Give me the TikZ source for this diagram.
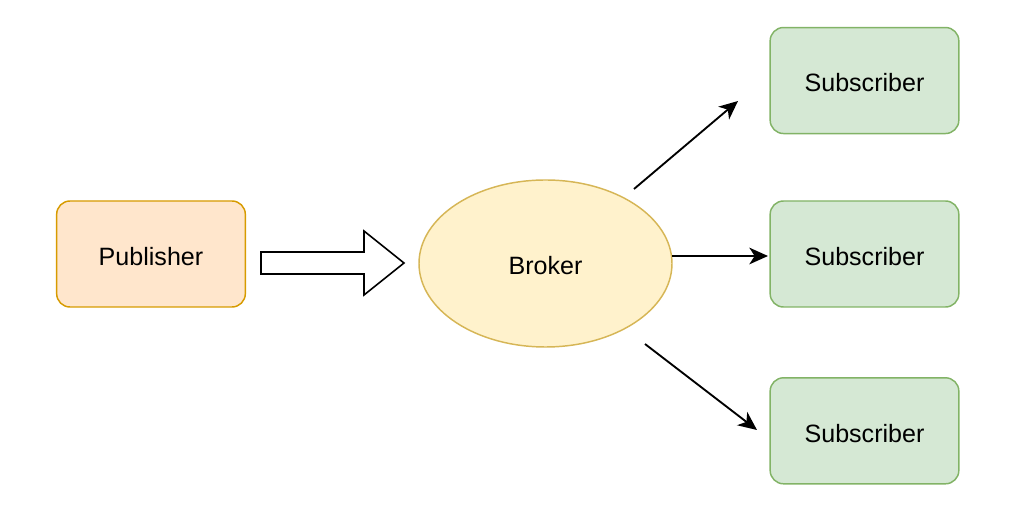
\documentclass[tikz,border=0pt]{standalone}
\usepackage{fontspec}
\setmainfont{Liberation Sans}
\usetikzlibrary{positioning, shapes.geometric, arrows.meta}
\definecolor{pubFill}{HTML}{FFE6CC}
\definecolor{pubLine}{HTML}{D79B00}
\definecolor{brokerFill}{HTML}{FFF2CC}
\definecolor{brokerLine}{HTML}{D6B656}
\definecolor{subFill}{HTML}{D5E8D4}
\definecolor{subLine}{HTML}{82B366}
\def\boxW{141.5pt}
\def\boxH{79.5pt}
\def\upperGap{49.5pt}
\def\lowerGap{52pt}
\newcommand{\PubSubStyles}{
  \tikzset{
    basebox/.style={
      rectangle,
      rounded corners=10pt,
      line width=1.1pt,
      minimum width=\boxW,
      minimum height=\boxH,
      text height=17pt,
      text depth=0pt,
      align=center
    },
    pubbox/.style={basebox, draw=pubLine, fill=pubFill},
    subbox/.style={basebox, draw=subLine, fill=subFill},
    brokerell/.style={ellipse, draw=brokerLine, fill=brokerFill, line width=1.1pt,
      minimum width=189.75pt, minimum height=125.25pt, inner sep=0pt,
      text height=16pt, text depth=0pt},
    pusharrow/.style={draw=black, fill=white, line width=1.2pt, line join=miter},
    fanout/.style={->, line width=1.4pt}
  }
}
\begin{document}
\begin{tikzpicture}[
  x=0.75pt, y=-0.75pt,
  >={Stealth[length=14pt, width=12.5pt, inset=4pt]},
  font=\fontsize{18.8}{22}\selectfont
]
  \PubSubStyles
  \useasboundingbox (0,0) rectangle (1029,523);

  \node[pubbox] (pub) at (151,254) {Publisher};
  \node[brokerell] (broker) at (545.5,263.5) {Broker};
  \node[subbox] (sub2) at (864.5,254) {Subscriber};
  \node[subbox, above=\upperGap of sub2] (sub1) {Subscriber};
  \node[subbox, below=\lowerGap of sub2] (sub3) {Subscriber};

  % hollow arrow from publisher to broker
  \coordinate (pushTail) at (261,262.5);
  \draw[pusharrow] (pushTail) ++(0,-10.5) -- ++(103,0) -- ++(0,-21) -- ++(40,32)
    -- ++(-40,32) -- ++(0,-21) -- ++(-103,0) -- cycle;

  % broker fans out to the subscribers
  \coordinate (fanUp) at (634,189);
  \coordinate (fanUpEnd) at (738,101);
  \coordinate (fanMid) at (672,256);
  \coordinate (fanMidEnd) at (768,256);
  \coordinate (fanLow) at (645,344);
  \coordinate (fanLowEnd) at (757,430);
  \draw[fanout] (fanUp) -- (fanUpEnd);
  \draw[fanout] (fanMid) -- (fanMidEnd);
  \draw[fanout] (fanLow) -- (fanLowEnd);
\end{tikzpicture}
\end{document}
